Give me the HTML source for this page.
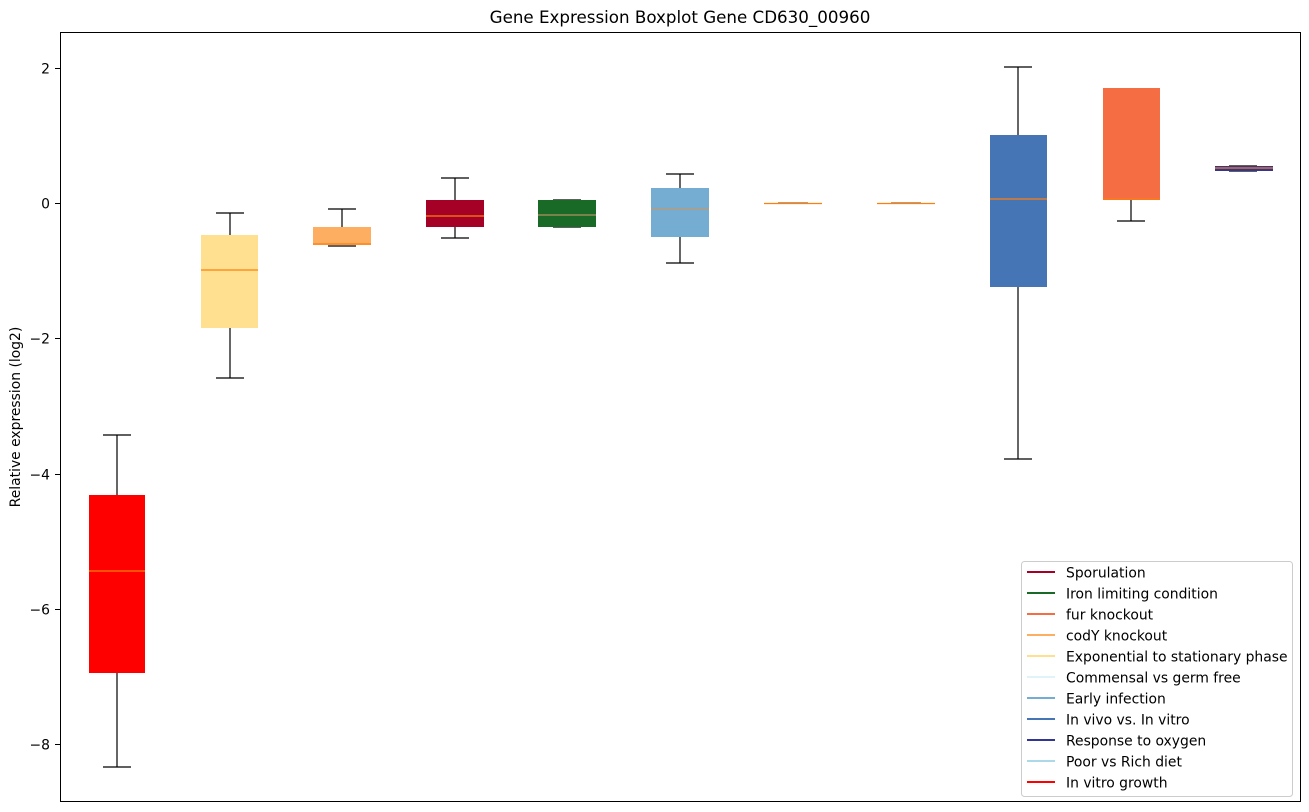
<!DOCTYPE html>
<html><head><style>body{margin:0;background:#fff}svg{display:block;font-family:"DejaVu Sans","Liberation Sans",sans-serif}</style></head><body>
<svg width="1309" height="812" xmlns="http://www.w3.org/2000/svg">
<text x="680" y="23" font-size="16.7" text-anchor="middle">Gene Expression Boxplot Gene CD630_00960</text>
<text transform="translate(20,417) rotate(-90)" font-size="13.9" text-anchor="middle">Relative expression (log2)</text>
<g font-size="13.9" text-anchor="end">
<line x1="55" x2="60" y1="68.5" y2="68.5" stroke="#000"/><text x="50" y="73.5">2</text>
<line x1="55" x2="60" y1="203.5" y2="203.5" stroke="#000"/><text x="50" y="208.5">0</text>
<line x1="55" x2="60" y1="338.5" y2="338.5" stroke="#000"/><text x="50" y="343.5">−2</text>
<line x1="55" x2="60" y1="474.5" y2="474.5" stroke="#000"/><text x="50" y="479.5">−4</text>
<line x1="55" x2="60" y1="609.5" y2="609.5" stroke="#000"/><text x="50" y="614.5">−6</text>
<line x1="55" x2="60" y1="744.5" y2="744.5" stroke="#000"/><text x="50" y="749.5">−8</text>
</g>
<g stroke="#000" stroke-width="1.2">
<line x1="117" x2="117" y1="435" y2="767"/><line x1="103" x2="131" y1="435" y2="435"/><line x1="103" x2="131" y1="767" y2="767"/>
<line x1="230" x2="230" y1="213" y2="378"/><line x1="216" x2="244" y1="213" y2="213"/><line x1="216" x2="244" y1="378" y2="378"/>
<line x1="342" x2="342" y1="209" y2="245"/><line x1="328" x2="356" y1="209" y2="209"/><line x1="328" x2="356" y1="246" y2="246"/>
<line x1="455" x2="455" y1="178" y2="238"/><line x1="441" x2="469" y1="178" y2="178"/><line x1="441" x2="469" y1="238" y2="238"/>
<line x1="553" x2="581" y1="200" y2="200"/><line x1="553" x2="581" y1="227" y2="227"/>
<line x1="680" x2="680" y1="174" y2="263"/><line x1="666" x2="694" y1="174" y2="174"/><line x1="666" x2="694" y1="263" y2="263"/>
<line x1="1018" x2="1018" y1="67" y2="459"/><line x1="1004" x2="1032" y1="67" y2="67"/><line x1="1004" x2="1032" y1="459" y2="459"/>
<line x1="1131" x2="1131" y1="88" y2="221"/><line x1="1117" x2="1145" y1="221" y2="221"/>
<line x1="1229" x2="1257" y1="166" y2="166"/><line x1="1229" x2="1257" y1="171" y2="171"/>
</g>
<g>
<rect x="89" y="495" width="56" height="178" fill="#ff0000"/>
<rect x="201" y="235" width="57" height="93" fill="#fee090"/>
<rect x="313" y="227" width="58" height="18" fill="#fdae61"/>
<rect x="426" y="200" width="58" height="27" fill="#a50026"/>
<rect x="538" y="200" width="58" height="27" fill="#1a6a27"/>
<rect x="651" y="188" width="58" height="49" fill="#74add1"/>
<rect x="778" y="202" width="30" height="2" fill="#b0a090"/>
<rect x="891" y="202" width="30" height="2" fill="#b0a090"/>
<rect x="990" y="135" width="57" height="152" fill="#4575b4"/>
<rect x="1103" y="88" width="57" height="112" fill="#f46d43"/>
<rect x="1215" y="166" width="58" height="5" fill="#313695"/>
</g>
<g stroke="#ff7f0e" stroke-width="1.2">
<line x1="89" x2="145" y1="571" y2="571"/>
<line x1="201" x2="258" y1="270" y2="270"/>
<line x1="313" x2="371" y1="244" y2="244"/>
<line x1="426" x2="484" y1="216" y2="216"/>
<line x1="538" x2="596" y1="215" y2="215" stroke="#b09060"/>
<line x1="651" x2="709" y1="209" y2="209" stroke="#c09870"/>
<line x1="764" x2="822" y1="203.5" y2="203.5"/>
<line x1="877" x2="935" y1="203.5" y2="203.5"/>
<line x1="990" x2="1047" y1="199" y2="199"/>
<line x1="1103" x2="1160" y1="199" y2="199"/>
<line x1="1215" x2="1273" y1="168" y2="168"/>
</g>
<rect x="60.5" y="32.5" width="1240" height="769" fill="none" stroke="#000"/>
<rect x="1021.5" y="561.5" width="271" height="235" rx="3" fill="#fff" stroke="#ccc"/>
<g font-size="13.9">
<g stroke-width="2">
<line x1="1027" x2="1055" y1="572" y2="572" stroke="#a50026"/>
<line x1="1027" x2="1055" y1="593" y2="593" stroke="#1a6a27"/>
<line x1="1027" x2="1055" y1="614" y2="614" stroke="#f46d43"/>
<line x1="1027" x2="1055" y1="635" y2="635" stroke="#fdae61"/>
<line x1="1027" x2="1055" y1="656" y2="656" stroke="#fee090"/>
<line x1="1027" x2="1055" y1="677" y2="677" stroke="#e0f3f8"/>
<line x1="1027" x2="1055" y1="698" y2="698" stroke="#74add1"/>
<line x1="1027" x2="1055" y1="719" y2="719" stroke="#4575b4"/>
<line x1="1027" x2="1055" y1="740" y2="740" stroke="#313695"/>
<line x1="1027" x2="1055" y1="761" y2="761" stroke="#abd9e9"/>
<line x1="1027" x2="1055" y1="782" y2="782" stroke="#ff0000"/>
</g>
<text x="1066" y="577.5">Sporulation</text>
<text x="1066" y="598.5">Iron limiting condition</text>
<text x="1066" y="619.5">fur knockout</text>
<text x="1066" y="640.5">codY knockout</text>
<text x="1066" y="661.5">Exponential to stationary phase</text>
<text x="1066" y="682.5">Commensal vs germ free</text>
<text x="1066" y="703.5">Early infection</text>
<text x="1066" y="724.5">In vivo vs. In vitro</text>
<text x="1066" y="745.5">Response to oxygen</text>
<text x="1066" y="766.5">Poor vs Rich diet</text>
<text x="1066" y="787.5">In vitro growth</text>
</g>
</svg>
</body></html>
